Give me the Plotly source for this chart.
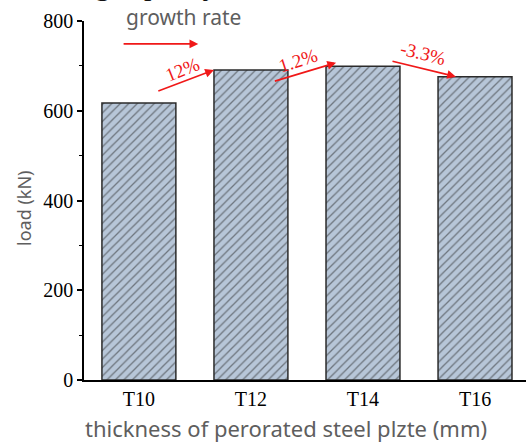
import plotly.graph_objects as go

# Bar data: ultimate load for each plate thickness
categories = ["T10", "T12", "T14", "T16"]
loads = [617, 691, 699, 676]
growth_labels = ["12%", "1.2%", "-3.3%"]
y_ticks = [0, 200, 400, 600, 800]

RED = "#f01818"
GRAY = "#5e5e5e"
FILL = "#b7c6d8"

# plot-area geometry in pixels
L, T, W, H = 84, 21, 442, 359


def px_x(p):
    return (p - L) / W


def px_y(p):
    return 1 - (p - T) / H


fig = go.Figure()
fig.add_trace(go.Bar(
    x=list(range(len(categories))),
    y=loads,
    width=0.66,
    marker=dict(
        color=FILL,
        line=dict(color="#2b2b2b", width=1.5),
        pattern=dict(shape="/", fgcolor="#262626", bgcolor=FILL,
                     size=6, solidity=0.22, fillmode="overlay"),
    ),
    showlegend=False,
))

# growth arrows between neighbouring bars (tail -> head, data coords)
tails = [(0.16, loads[0] + 26), (1.20, loads[1] - 26), (2.25, loads[2] + 12)]
heads = [(0.67, loads[1]), (1.76, loads[2] + 8), (2.83, loads[3])]
label_pos = [(0.39, 692, -22), (1.42, 713, -18), (2.54, 727, 14)]

annotations = []
for (tx, ty), (hx, hy), (lx, ly, ang), txt in zip(tails, heads, label_pos, growth_labels):
    annotations.append(dict(
        x=hx, y=hy, ax=tx, ay=ty, xref="x", yref="y", axref="x", ayref="y",
        text="", showarrow=True, arrowhead=2, arrowsize=1.1, arrowwidth=1.6,
        arrowcolor=RED, standoff=0,
    ))
    annotations.append(dict(
        x=lx, y=ly, xref="x", yref="y", text=txt, showarrow=False,
        xanchor="center", yanchor="middle",
        textangle=ang, font=dict(family="Liberation Serif", size=19, color=RED),
    ))

# key arrow and its caption
annotations.append(dict(
    x=0.53, y=749, ax=-0.15, ay=749, xref="x", yref="y", axref="x", ayref="y",
    text="", showarrow=True, arrowhead=2, arrowsize=1.1, arrowwidth=1.6,
    arrowcolor=RED, standoff=0,
))
annotations.append(dict(
    x=px_x(183), y=px_y(17), xref="paper", yref="paper", text="growth rate",
    showarrow=False, xanchor="center", yanchor="middle",
    font=dict(family="Noto Sans", size=21, color=GRAY),
))

# heading, mostly above the top edge of the page
annotations.append(dict(
    x=px_x(219), y=px_y(-15), xref="paper", yref="paper",
    xanchor="right", yanchor="middle", text="bearing capacity", showarrow=False,
    font=dict(family="Liberation Serif", size=30, color="#111"),
))

# axis titles
annotations.append(dict(
    x=px_x(286), y=px_y(428), xref="paper", yref="paper",
    xanchor="center", yanchor="middle",
    text="thickness of perorated steel plzte (mm)", showarrow=False,
    font=dict(family="Noto Sans", size=22, color=GRAY),
))
annotations.append(dict(
    x=px_x(24), y=px_y(209), xref="paper", yref="paper", textangle=-90,
    xanchor="center", yanchor="middle",
    text="load (kN)", showarrow=False,
    font=dict(family="Noto Sans", size=18, color=GRAY),
))

fig.update_layout(
    width=526, height=444,
    margin=dict(l=L, r=0, t=T, b=444 - T - H),
    plot_bgcolor="white", paper_bgcolor="white",
    annotations=annotations,
)
fig.update_xaxes(
    range=[-0.49, 3.455], tickvals=list(range(len(categories))), ticktext=categories,
    showline=True, linecolor="black", linewidth=1.5, ticks="", showgrid=False,
    zeroline=False, tickfont=dict(family="Liberation Serif", size=20, color="black"),
)
fig.update_yaxes(
    range=[0, 800], tickvals=y_ticks, showline=True, linecolor="black", linewidth=1.5,
    ticks="outside", ticklen=5, tickwidth=1.5, tickcolor="black", showgrid=False,
    zeroline=False, tickfont=dict(family="Liberation Serif", size=20, color="black"),
    minor=dict(dtick=100, ticks="outside", ticklen=3, tickwidth=1, tickcolor="black"),
)

fig.write_html("out.html")
